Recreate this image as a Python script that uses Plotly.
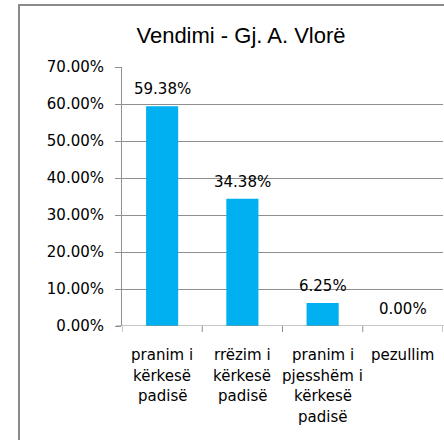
import plotly.graph_objects as go

categories = ["pranim i<br>kërkesë<br>padisë", "rrëzim i<br>kërkesë<br>padisë",
              "pranim i<br>pjesshëm i<br>kërkesë<br>padisë", "pezullim"]
values = [59.38, 34.38, 6.25, 0.00]
labels = ["59.38%", "34.38%", "6.25%", "0.00%"]
tickvals = [0, 10, 20, 30, 40, 50, 60, 70]
ticktext = ["0.00%", "10.00%", "20.00%", "30.00%", "40.00%", "50.00%", "60.00%", "70.00%"]

FONT = "DejaVu Sans"
GRID = "#8f8f8f"

fig = go.Figure(go.Bar(
    x=list(range(len(categories))), y=values,
    marker=dict(color="#00B0F0", line=dict(width=0)), width=0.4,
    hoverinfo="skip",
))

for i, (v, t) in enumerate(zip(values, labels)):
    fig.add_annotation(x=i, y=v, text=t, showarrow=False, xanchor="center",
                       yanchor="bottom", yshift=6,
                       font=dict(family=FONT, size=15, color="#000000"))

# category labels, one annotation per line for Excel-like line spacing
for i, cat in enumerate(categories):
    for j, line in enumerate(cat.split("<br>")):
        fig.add_annotation(x=i, y=0, xref="x", yref="paper", text=line, showarrow=False,
                           xanchor="center", yanchor="middle", yshift=-(29 + 20.6 * j),
                           font=dict(family=FONT, size=15, color="#000000"))

W, H = 444, 440
L, R, T, B = 122, 1, 67, 440 - 326
pw, ph = W - L - R, H - T - B

fig.update_layout(
    width=W, height=H,
    margin=dict(l=L, r=R, t=T, b=B, pad=0),
    paper_bgcolor="white", plot_bgcolor="white",
    showlegend=False,
    title=dict(text="Vendimi - Gj. A. Vlorë", x=241 / W, xanchor="center",
               y=1 - 35 / H, yanchor="middle",
               font=dict(family="Liberation Sans", size=22, color="#000000")),
    xaxis=dict(range=[-0.5, 3.5], tickvals=list(range(len(categories))),
               showticklabels=False, showgrid=False, zeroline=False,
               showline=False, ticks=""),
    yaxis=dict(range=[0, 70], tickvals=tickvals, ticktext=ticktext,
               showgrid=True, gridcolor=GRID, gridwidth=1, zeroline=False,
               showline=True, linecolor=GRID, linewidth=1,
               ticks="outside", ticklen=6, tickcolor=GRID,
               tickfont=dict(family=FONT, size=15, color="#000000"),
               ticklabelstandoff=8),
    bargap=0.6,
)

shapes = []
shapes.append(dict(type="line", xref="paper", yref="y", x0=-6 / pw, x1=1.01, y0=0, y1=0,
                   line=dict(color=GRID, width=1)))
for b in [-0.5, 0.5, 1.5, 2.5, 3.5]:
    shapes.append(dict(type="line", xref="x", yref="paper", x0=b, x1=b, y0=0, y1=-6 / ph,
                       line=dict(color=GRID, width=1)))
# outer chart frame (cropped at right and bottom)
shapes.append(dict(type="rect", xref="paper", yref="paper",
                   x0=(19 - L) / pw, x1=(W + 20 - L) / pw,
                   y0=-(B + 20) / ph, y1=(H - B - 5) / ph,
                   line=dict(color="#8a8a8a", width=2), layer="below"))
fig.update_layout(shapes=shapes)

fig.write_html("out.html", config={"displayModeBar": False},
               post_script="document.body.style.margin='0';")
